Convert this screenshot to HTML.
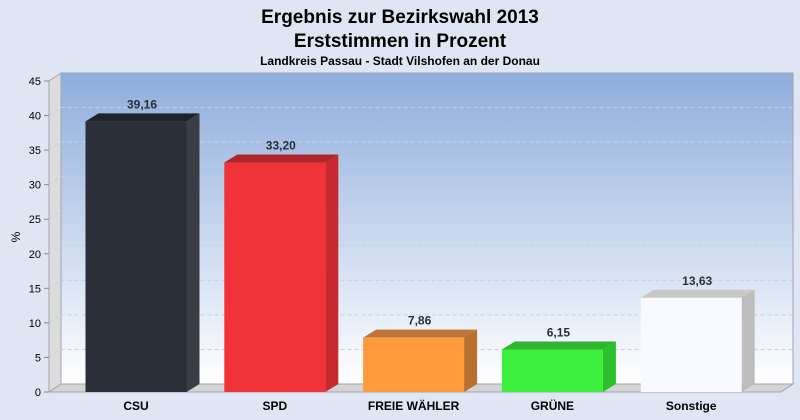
<!DOCTYPE html>
<html><head><meta charset="utf-8"><style>
body{margin:0;background:#dfe5f3;font-family:"Liberation Sans",sans-serif}
svg{display:block}
</style></head><body>
<svg width="800" height="420">
<defs>
<linearGradient id="wall" x1="0" y1="0" x2="0" y2="1"><stop offset="0" stop-color="#8eaddc"/><stop offset="1" stop-color="#ffffff"/></linearGradient>
</defs>
<rect width="800" height="420" fill="#dfe5f3"/>
<text x="400" y="23" text-anchor="middle" font-size="19" font-weight="bold" fill="#000">Ergebnis zur Bezirkswahl 2013</text>
<text x="400" y="47" text-anchor="middle" font-size="19" font-weight="bold" fill="#000">Erststimmen in Prozent</text>
<text x="400" y="65" text-anchor="middle" font-size="12" font-weight="bold" fill="#000">Landkreis Passau - Stadt Vilshofen an der Donau</text>
<rect x="61" y="73" width="732" height="311" fill="url(#wall)" stroke="#a0a4b0"/>
<polygon points="49,81 61,73 61,384 49,392" fill="#dcdcdc" stroke="#a0a4b0"/>
<polygon points="49,392 61,384 793,384 781,392" fill="#d4d4d4" stroke="#a0a4b0"/>
<g id="grid"></g><g id="axis"></g><g id="bars"></g>
<text x="20" y="237" font-size="12" fill="#000" transform="rotate(-90 20 237)" text-anchor="middle">%</text>
</svg>
<script>
const categories=["CSU","SPD","FREIE WÄHLER","GRÜNE","Sonstige"];
const values=[39.16,33.20,7.86,6.15,13.63];
const labels=["39,16","33,20","7,86","6,15","13,63"];
const colors=[["#2a2f3a","#1e222a","#3a3d44"],["#ef3338","#b0262c","#c8282e"],["#ff9a3c","#c0763a","#b8702c"],["#3cf03c","#2fb52f","#2cc02c"],["#f8faff","#c8c8c8","#bdbdbd"]];
const yTicks=[0,5,10,15,20,25,30,35,40,45];
const NS="http://www.w3.org/2000/svg";
const y0=392,yTop=81,ymax=45,dx=13,dy=8;
const ys=v=>y0-(v/ymax)*(y0-yTop);
const xc=i=>136+i*138.8;
const bw=101;
function mk(t,a,p){const e=document.createElementNS(NS,t);for(const k in a)e.setAttribute(k,a[k]);p.appendChild(e);return e;}
const grid=document.getElementById('grid'),axis=document.getElementById('axis'),bars=document.getElementById('bars');
yTicks.forEach(t=>{const y=ys(t);
 if(t>0&&t<45){const g=mk('polyline',{points:`49,${y} 61,${y-dy} 793,${y-dy}`,fill:'none',stroke:'#c8cfe0','stroke-dasharray':'4,3'},grid);
 
 }
 const l=mk('line',{x1:44,x2:49,y1:y,y2:y,stroke:'#888'},axis);
 
 
 const tx=mk('text',{x:41,y:y+4,'text-anchor':'end','font-size':11,fill:'#000'},axis);tx.textContent=t;
 
 
});
values.forEach((v,i)=>{const x=xc(i)-bw/2,y=ys(v),c=colors[i];
 const g=mk('g',{},bars);
 
 
 mk('polygon',{points:`${x+bw},${y} ${x+bw+dx},${y-dy} ${x+bw+dx},${y0-dy} ${x+bw},${y0}`,fill:c[2]},g);
 mk('polygon',{points:`${x},${y} ${x+dx},${y-dy} ${x+bw+dx},${y-dy} ${x+bw},${y}`,fill:c[1]},g);
 mk('rect',{x:x,y:y,width:bw,height:y0-y,fill:c[0]},g);
 const t=mk('text',{x:xc(i)+6,y:y-dy-5,'text-anchor':'middle','font-size':12,'font-weight':'bold',fill:'#2a2f3a'},bars);t.textContent=labels[i];
 
 
 const c2=mk('text',{x:xc(i),y:410,'text-anchor':'middle','font-size':12,'font-weight':'bold',fill:'#000'},bars);c2.textContent=categories[i];
 
 
});
</script>
</body></html>
